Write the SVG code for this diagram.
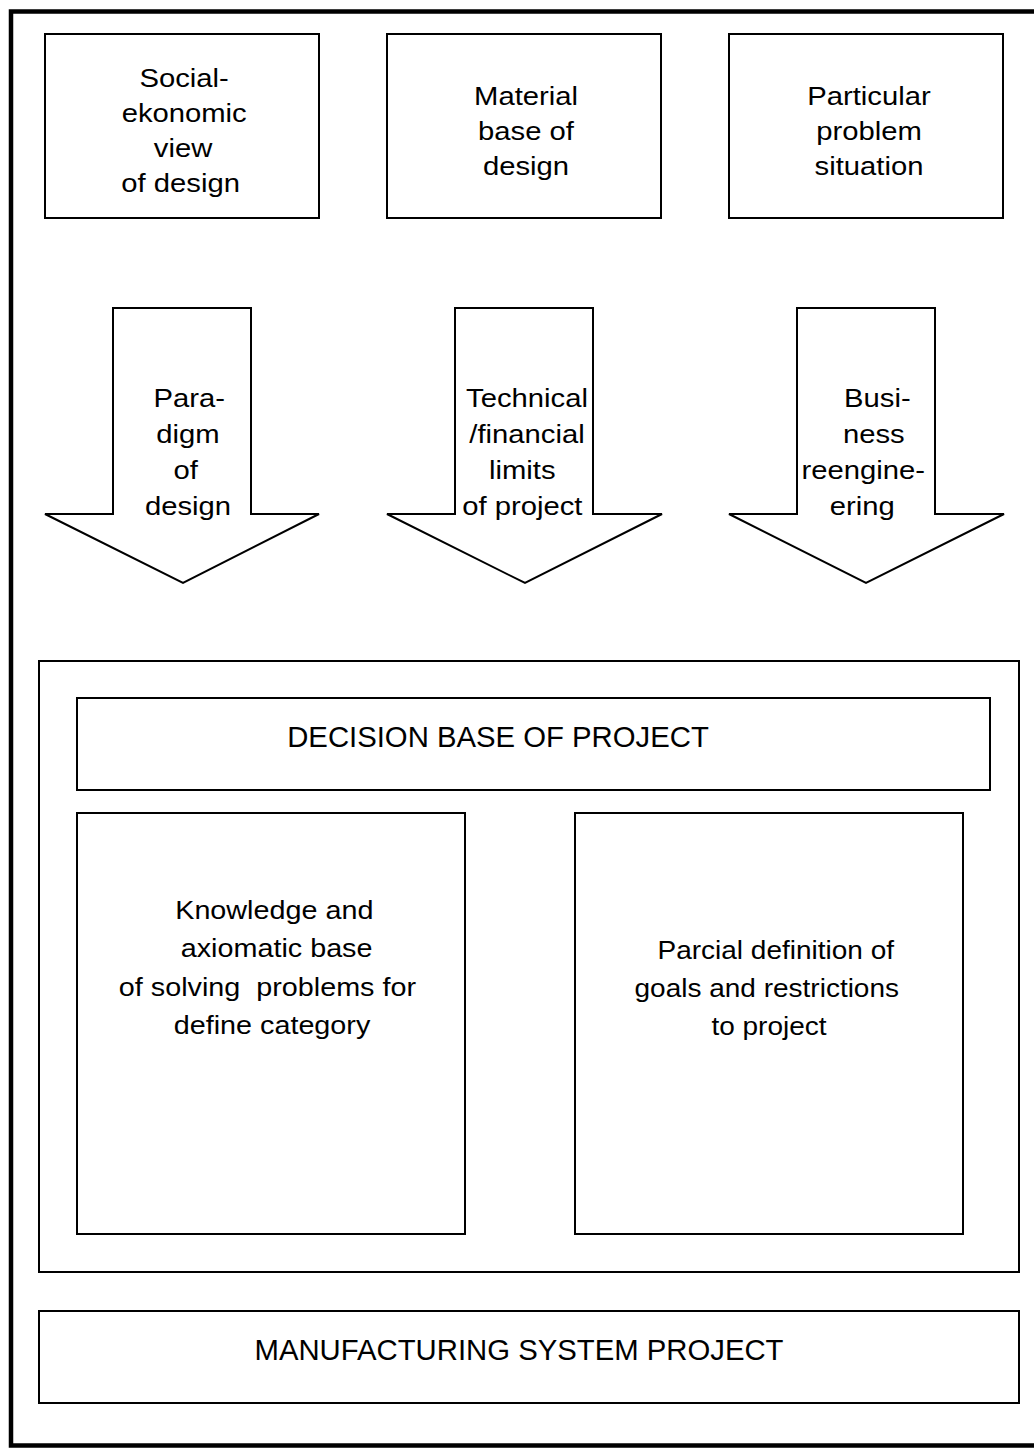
<svg xmlns="http://www.w3.org/2000/svg" width="1034" height="1448" viewBox="0 0 1034 1448">
  <style>
    .box { fill: #fff; stroke: #000; stroke-width: 2; }
    .arrow { fill: #fff; stroke: #000; stroke-width: 2; stroke-linejoin: miter; }
    .frame { fill: none; stroke: #000; stroke-width: 4.5; }
    .t { font-family: "Liberation Sans", Arial, sans-serif; fill: #000; text-anchor: middle; white-space: pre; }
    .s24 { font-size: 25px; }
    .s25 { font-size: 25px; }
    .caps { font-size: 29.3px; }
  </style>

  <rect width="1034" height="1448" fill="#fff"/>

  <!-- outer frame (right side runs past the page edge) -->
  <rect class="frame" x="11" y="11.5" width="1040" height="1434"/>

  <!-- top source boxes -->
  <g id="node-social">
    <rect class="box" x="45" y="34" width="274" height="184"/>
    <g class="t s24" transform="translate(183 0) scale(1.17 1)">
      <text x="1" y="87">Social-</text>
      <text x="1" y="122">ekonomic</text>
      <text x="0" y="157">view</text>
      <text x="-2" y="192">of design</text>
    </g>
  </g>
  <g id="node-material">
    <rect class="box" x="387" y="34" width="274" height="184"/>
    <g class="t s24" transform="translate(526 0) scale(1.17 1)">
      <text x="0" y="105">Material</text>
      <text x="0" y="140">base of</text>
      <text x="0" y="175">design</text>
    </g>
  </g>
  <g id="node-particular">
    <rect class="box" x="729" y="34" width="274" height="184"/>
    <g class="t s24" transform="translate(869 0) scale(1.17 1)">
      <text x="0" y="105">Particular</text>
      <text x="0" y="140">problem</text>
      <text x="0" y="175">situation</text>
    </g>
  </g>

  <!-- block arrows pointing down into the decision base -->
  <g id="connectors">
    <g id="arrow-paradigm">
      <polygon class="arrow" points="113,308 251,308 251,514 319,514 183,583 45,514 113,514"/>
      <g class="t s24" transform="translate(188 0) scale(1.17 1)">
        <text x="1" y="407">Para-</text>
        <text x="0" y="443">digm</text>
        <text x="-2" y="479">of</text>
        <text x="0" y="515">design</text>
      </g>
    </g>
    <g id="arrow-limits">
      <polygon class="arrow" points="455,308 593,308 593,514 662,514 525,583 387,514 455,514"/>
      <g class="t s24" transform="translate(527 0) scale(1.17 1)">
        <text x="0" y="407">Technical</text>
        <text x="0" y="443">/financial</text>
        <text x="-4" y="479">limits</text>
        <text x="-4" y="515">of project</text>
      </g>
    </g>
    <g id="arrow-business">
      <polygon class="arrow" points="797,308 935,308 935,514 1004,514 866,583 729,514 797,514"/>
      <g class="t s24" transform="translate(868 0) scale(1.17 1)">
        <text x="8" y="407">Busi-</text>
        <text x="5" y="443">ness</text>
        <text x="-4" y="479">reengine-</text>
        <text x="-5" y="515">ering</text>
      </g>
    </g>
  </g>

  <!-- decision base container -->
  <g id="node-decision-base">
    <rect class="box" x="39" y="661" width="980" height="611"/>
    <rect class="box" x="77" y="698" width="913" height="92"/>
    <text class="t caps" x="498" y="747">DECISION BASE OF PROJECT</text>
  </g>
  <g id="node-knowledge">
    <rect class="box" x="77" y="813" width="388" height="421"/>
    <g class="t s24" transform="translate(272 0) scale(1.15 1)">
      <text x="2" y="919">Knowledge and</text>
      <text x="4" y="957">axiomatic base</text>
      <text x="-4" y="996" xml:space="preserve">of solving  problems for</text>
      <text x="0" y="1034">define category</text>
    </g>
  </g>
  <g id="node-goals">
    <rect class="box" x="575" y="813" width="388" height="421"/>
    <g class="t s25" transform="translate(769 0) scale(1.12 1)">
      <text x="6" y="959">Parcial definition of</text>
      <text x="-2" y="997">goals and restrictions</text>
      <text x="0" y="1035">to project</text>
    </g>
  </g>

  <!-- final output -->
  <g id="node-manufacturing">
    <rect class="box" x="39" y="1311" width="980" height="92"/>
    <text class="t caps" x="519" y="1360">MANUFACTURING SYSTEM PROJECT</text>
  </g>
</svg>
